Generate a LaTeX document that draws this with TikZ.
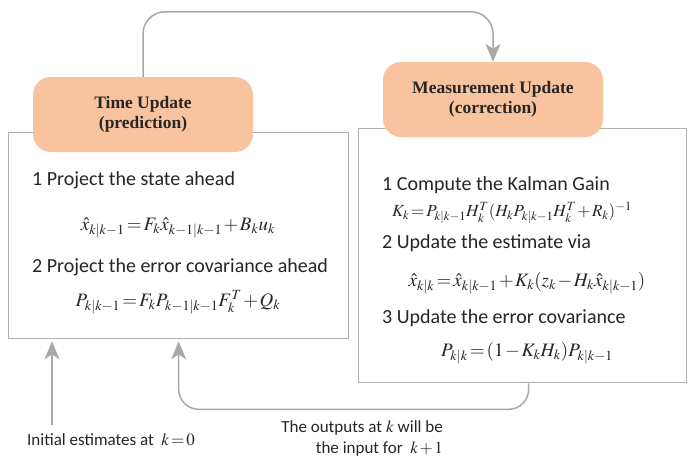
\documentclass[tikz,border=0pt]{standalone}
\usepackage{mathptmx}
\usepackage{fontspec}
\setmainfont{Carlito}
\newfontfamily\titlefont{Liberation Serif}
\usetikzlibrary{arrows.meta}
\definecolor{peach}{HTML}{FAC3A0}
\definecolor{linegray}{HTML}{A8A8A8}
\definecolor{boxgray}{HTML}{B0B0B0}
\newcommand{\tightmath}{\thickmuskip=2mu\medmuskip=1.5mu}
\begin{document}
\begin{tikzpicture}[x=1pt,y=-1pt,
  panel/.style={draw=boxgray, line width=1.3pt, fill=white, anchor=north west, inner sep=0pt},
  pill/.style={fill=peach, rounded corners=18pt, minimum width=220pt, minimum height=75pt, inner sep=0pt,
     align=center, font=\titlefont\bfseries\fontsize{17.5}{19.5}\selectfont, text=black!85},
  txt/.style={anchor=west, inner sep=0pt, font=\fontsize{20}{24}\selectfont, text=black!85},
  frm/.style={inner sep=0pt, font=\fontsize{19}{23}\selectfont\tightmath, text=black!85},
  note/.style={inner sep=0pt, font=\fontsize{17}{21}\selectfont\tightmath, text=black!85},
  arr/.style={draw=linegray, line width=1.5pt, -{Stealth[length=18pt,width=15pt,inset=5pt]}}]
\useasboundingbox (0,0) rectangle (691,458);
\fill[white] (0,0) rectangle (691,458);

% panels
\node[panel, minimum width=340pt, minimum height=206pt] (tubox) at (8,132) {};
\node[panel, minimum width=328pt, minimum height=254pt] (mubox) at (358,128) {};

% title pills
\node[pill] (tu) at (143,114.5) {Time Update\\(prediction)};
\node[pill] (mu) at (493,99.5) {Measurement Update\\(correction)};

% left panel contents
\node[txt] (t1) at (32,180) {1 Project the state ahead};
\node[frm] (f1) at (178,228) {$\hat{x}_{k|k-1}=F_k\hat{x}_{k-1|k-1}+B_k u_k$};
\node[txt] (t2) at (32,267) {2 Project the error covariance ahead};
\node[frm] (f2) at (178,302) {$P_{k|k-1}=F_k P_{k-1|k-1}F_k^T+Q_k$};

% right panel contents
\node[txt] (m1) at (382,185) {1 Compute the Kalman Gain};
\node[frm, font=\fontsize{17}{21}\selectfont\tightmath] (g1) at (512,213) {$K_k=P_{k|k-1}H_k^T(H_k P_{k|k-1}H_k^T+R_k)^{-1}$};
\node[txt] (m2) at (382,243) {2 Update the estimate via};
\node[frm] (g2) at (527,283) {$\hat{x}_{k|k}=\hat{x}_{k|k-1}+K_k(z_k-H_k\hat{x}_{k|k-1})$};
\node[txt] (m3) at (382,318) {3 Update the error covariance};
\node[frm] (g3) at (527,353) {$P_{k|k}=(1-K_k H_k)P_{k|k-1}$};

% bottom notes
\node[note, anchor=west] (init) at (27,440) {Initial estimates at \ $k=0$};
\node[note, anchor=east, align=right] (outs) at (443,438.5) {The outputs at $k$ will be\\the input for \ $k+1$};

% connectors
\draw[arr, rounded corners=22pt] (tu.north) |- ([yshift=50pt]mu.north) -- (mu.north);
\coordinate (initstart) at (52,425);
\draw[arr, shorten >=2pt] (initstart) -- (initstart |- tubox.south);
\draw[arr, rounded corners=20pt, shorten >=2pt] ([xshift=6pt]mubox.south) |- ([yshift=-70pt]tubox.south) -- (tubox.south);
\end{tikzpicture}
\end{document}
